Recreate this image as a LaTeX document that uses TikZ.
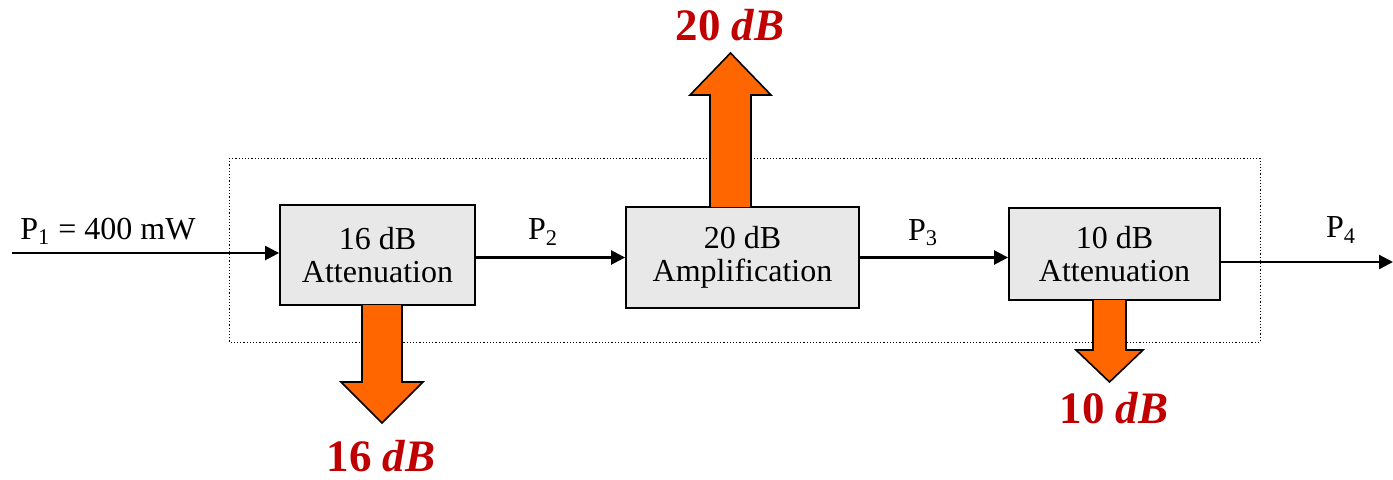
\documentclass[tikz,border=0pt]{standalone}
\usepackage{fontspec}
\setmainfont{Liberation Serif}
\usetikzlibrary{arrows.meta,calc}
\definecolor{boxgray}{RGB}{232,232,232}
\definecolor{floworange}{RGB}{255,102,0}
\definecolor{gainred}{RGB}{192,0,0}
\definecolor{lineblack}{RGB}{0,0,0}

\begin{document}
\begin{tikzpicture}[
  x=0.5pt, y=-0.5pt,
  stage/.style={rectangle, draw=lineblack, fill=boxgray, align=center, line width=0.9pt, font=\fontsize{16}{16.5}\selectfont, inner sep=0pt},
  sig/.style={font=\fontsize{16}{18}\selectfont},
  gain/.style={text=gainred, inner sep=0pt, font=\fontsize{22.5}{24}\selectfont\bfseries},
  bigarrow/.style={fill=floworange, draw=lineblack, line width=0.8pt, line join=miter},
  arr/.style={-{Triangle[length=7pt,width=7pt]}, line width=1.2pt}
]
\useasboundingbox (0,0) rectangle (1393,479);

% system boundary
\draw[line width=0.5pt, dash pattern=on 0.6pt off 1pt] (229,158) rectangle (1260,342);

% stages
\node[stage, minimum width=97.5pt, minimum height=50pt] (att1) at (377.5,255) {16 dB\\Attenuation};
\node[stage, minimum width=116.5pt, minimum height=50.5pt] (amp) at (742.5,257.5) {20 dB\\Amplification};
\node[stage, minimum width=105.5pt, minimum height=46pt] (att2) at (1114.5,254) {10 dB\\Attenuation};

% signal path
\coordinate (src) at (12,253);
\coordinate (snk) at (1393,262);
\draw[arr] (src) -- (src -| att1.west);
\draw[arr] (amp.west -| att1.east) -- (amp.west);
\draw[arr] (amp.east) -- (amp.east -| att2.west);
\draw[arr] (snk -| att2.east) -- (snk);

\node[sig] (p1) at (108,231) {P\textsubscript{1} = 400 mW};
\node[sig] (p2) at (543,232) {P\textsubscript{2}};
\node[sig] (p3) at (923,233) {P\textsubscript{3}};
\node[sig] (p4) at (1341,230) {P\textsubscript{4}};

% gains and losses
\filldraw[bigarrow] (362,305) -- (362,382) -- (341,382) -- (382,423) -- (423,382) -- (402,382) -- (402,305);
\filldraw[bigarrow] (710,207) -- (710,95) -- (690,95) -- (730.5,53) -- (771,95) -- (751,95) -- (751,207);
\filldraw[bigarrow] (1093,300) -- (1093,350) -- (1076,350) -- (1109.5,382) -- (1143,350) -- (1126,350) -- (1126,300);

\node[gain] (l1) at (381,456) {16 \textit{dB}};
\node[gain] (g2) at (730,25) {20 \textit{dB}};
\node[gain] (l3) at (1114,408) {10 \textit{dB}};
\end{tikzpicture}
\end{document}
